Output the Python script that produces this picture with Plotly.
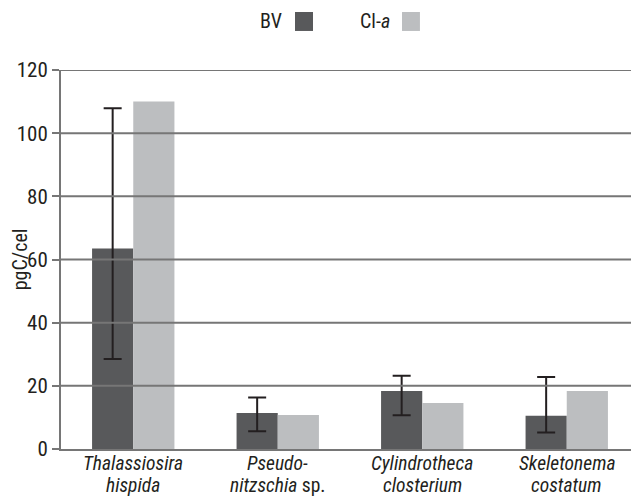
import plotly.graph_objects as go

categories = [["<i>Thalassiosira</i>", "<i>hispida</i>"],
              ["<i>Pseudo-</i>", "<i>nitzschia</i> sp."],
              ["<i>Cylindrotheca</i>", "<i>closterium</i>"],
              ["<i>Skeletonema</i>", "<i>costatum</i>"]]
bv_values = [63.5, 11.4, 18.4, 10.5]
bv_err_plus = [44.4, 4.9, 4.8, 12.3]
bv_err_minus = [35.0, 5.8, 7.7, 5.3]
cla_values = [110.0, 10.8, 14.6, 18.4]
y_ticks = [0, 20, 40, 60, 80, 100, 120]

FONT = "Roboto Condensed, DejaVu Sans Condensed, sans-serif"
DARK = "#58595b"
LIGHT = "#bcbec0"
GRID = "#767676"
TEXT = "#231f20"

xs = list(range(len(categories)))

fig = go.Figure()
fig.add_trace(go.Bar(
    x=xs, y=bv_values, name="BV", marker=dict(color=DARK, line=dict(width=0)),
    error_y=dict(type="data", symmetric=False, array=bv_err_plus, arrayminus=bv_err_minus,
                 color=TEXT, thickness=2, width=9),
))
fig.add_trace(go.Bar(
    x=xs, y=cla_values, name="Cl-a", marker=dict(color=LIGHT, line=dict(width=0)),
))

shapes = []
for t in y_ticks[1:]:
    shapes.append(dict(type="line", xref="paper", yref="y", x0=0, x1=1, y0=t, y1=t,
                       line=dict(color=GRID, width=2), layer="above"))
for k in range(len(categories) + 1):
    shapes.append(dict(type="line", xref="x", yref="y", ysizemode="pixel", yanchor=0,
                       x0=k - 0.5, x1=k - 0.5, y0=0, y1=-14,
                       line=dict(color=GRID, width=2), layer="above"))
# legend squares
shapes.append(dict(type="rect", xref="paper", yref="paper", x0=0.4048, x1=0.436,
                   y0=1.103, y1=1.153, fillcolor=DARK, line=dict(width=0)))
shapes.append(dict(type="rect", xref="paper", yref="paper", x0=0.590, x1=0.621,
                   y0=1.103, y1=1.153, fillcolor=LIGHT, line=dict(width=0)))

annotations = [
    dict(text="BV", xref="paper", yref="paper", x=0.386, y=1.129, xanchor="right",
         yanchor="middle", showarrow=False, font=dict(family=FONT, size=20, color=TEXT)),
    dict(text="Cl-<i>a</i>", xref="paper", yref="paper", x=0.573, y=1.129, xanchor="right",
         yanchor="middle", showarrow=False, font=dict(family=FONT, size=20, color=TEXT)),
]
# two-line category labels, placed at category positions on the x scale
for i, lines in zip(xs, categories):
    for j, line in enumerate(lines):
        annotations.append(dict(text=line, xref="x", yref="paper", x=i, y=0,
                                xanchor="center", yanchor="top", yshift=-2 - 22 * j,
                                showarrow=False, borderpad=0,
                                font=dict(family=FONT, size=19.5, color=TEXT)))

fig.update_layout(
    width=631, height=491,
    margin=dict(l=53, r=0, t=62, b=50, autoexpand=False),
    paper_bgcolor="white", plot_bgcolor="white",
    barmode="group", bargap=0.43, bargroupgap=0,
    showlegend=False,
    font=dict(family=FONT, size=20, color=TEXT),
    shapes=shapes, annotations=annotations,
    xaxis=dict(tickmode="array", tickvals=xs, showticklabels=False, range=[-0.5, 3.5],
               showgrid=False, showline=True, linecolor=GRID, linewidth=2,
               ticks="", zeroline=False, automargin=False),
    yaxis=dict(range=[0, 120], tickvals=y_ticks, showgrid=False, showline=True,
               linecolor=GRID, linewidth=2, ticks="outside", ticklen=7, tickwidth=2,
               tickcolor=GRID, tickfont=dict(family=FONT, size=21), zeroline=False,
               automargin=False,
               title=dict(text="pgC/cel", font=dict(family=FONT, size=20), standoff=4)),
)

fig.write_html("out.html")
